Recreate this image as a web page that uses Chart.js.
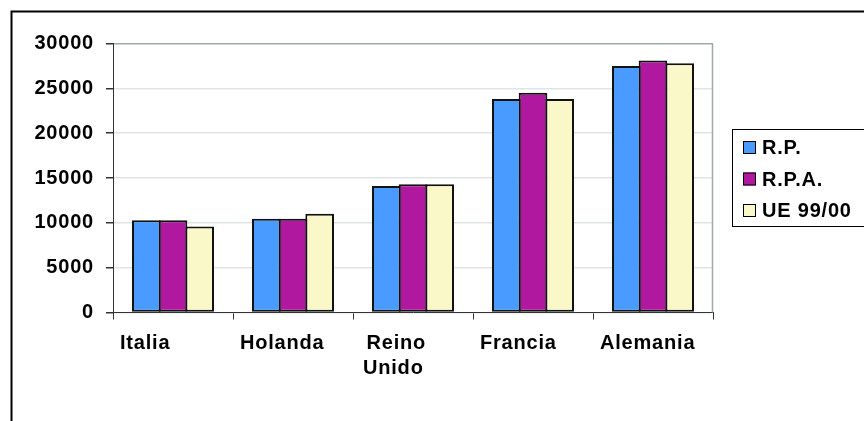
<!DOCTYPE html>
<html>
<head>
<meta charset="utf-8">
<script src="https://cdn.jsdelivr.net/npm/chart.js@4/dist/chart.umd.min.js"></script>
<style>
  html, body { margin: 0; padding: 0; background: #fff; }
  #wrap { width: 864px; height: 421px; position: relative; }
</style>
</head>
<body>
<div id="wrap"><canvas id="c"></canvas></div>
<script>
// Countries (multi-line labels are arrays)
const categories = [['Italia'], ['Holanda'], ['Reino', 'Unido'], ['Francia'], ['Alemania']];
// Series values
const rp   = [10300, 10450, 14100, 23800, 27500];
const rpa  = [10300, 10450, 14300, 24500, 28100];
const ue   = [9600, 11000, 14300, 23800, 27800];
const seriesNames = ['R.P.', 'R.P.A.', 'UE 99/00'];
// Value axis ticks
const yTicks = [0, 5000, 10000, 15000, 20000, 25000, 30000];

const colors = ['#4a9bff', '#b0189f', '#faf8c8'];
const FONT = '"Liberation Sans", Arial, sans-serif';

// Outer frame, plot border, category labels and legend box
const decor = {
  id: 'decor',
  beforeDraw(chart) {
    const ctx = chart.ctx;
    // slightly wider lettering for every text drawn on the canvas
    if ('letterSpacing' in ctx) ctx.letterSpacing = '0.8px';
    ctx.save();
    ctx.fillStyle = '#fff';
    ctx.fillRect(0, 0, chart.width, chart.height);
    ctx.strokeStyle = '#000';
    ctx.lineWidth = 2;
    ctx.beginPath();
    ctx.moveTo(11.5, chart.height + 5);
    ctx.lineTo(11.5, 11.5);
    ctx.lineTo(chart.width + 5, 11.5);
    ctx.stroke();
    ctx.restore();
  },
  beforeDatasetsDraw(chart) {
    const ctx = chart.ctx, a = chart.chartArea;
    ctx.save();
    ctx.strokeStyle = '#9ea9a9';
    ctx.lineWidth = 1.5;
    ctx.beginPath();
    ctx.moveTo(Math.round(a.right) - 0.5, a.top);
    ctx.lineTo(Math.round(a.right) - 0.5, a.bottom);
    ctx.stroke();
    ctx.restore();
  },
  afterDraw(chart) {
    const ctx = chart.ctx;
    const xs = chart.scales.x;
    const n = chart.data.labels.length;
    const cw = xs.width / n;
    ctx.save();
    ctx.font = 'bold 20px ' + FONT;
    ctx.fillStyle = '#000';
    ctx.textBaseline = 'alphabetic';
    ctx.textAlign = 'center';
    chart.data.labels.forEach((lab, i) => {
      const lines = Array.isArray(lab) ? lab : [lab];
      const w = Math.max(...lines.map(l => ctx.measureText(l).width));
      const left = xs.getPixelForValue(i) - cw / 2 + (lines.length > 1 ? 10 : 7);
      lines.forEach((l, k) => ctx.fillText(l, left + w / 2 + (k === 0 && lines.length > 1 ? 3 : 0), 349 + k * 25));
    });

    // legend
    const lx = 732.5, ly = 129.5;
    ctx.strokeStyle = '#000';
    ctx.lineWidth = 1;
    ctx.strokeRect(lx, ly, chart.width, 97);
    ctx.textAlign = 'left';
    ctx.textBaseline = 'alphabetic';
    chart.data.datasets.forEach((ds, i) => {
      const base = 154 + i * 31.5;
      ctx.fillStyle = ds.backgroundColor;
      ctx.fillRect(743, base - 13, 13, 13);
      ctx.strokeStyle = '#000';
      ctx.strokeRect(743.5, base - 12.5, 12, 12);
      ctx.fillStyle = '#000';
      ctx.fillText(ds.label, 762, base);
    });
    ctx.restore();
  }
};

new Chart(document.getElementById('c'), {
  type: 'bar',
  data: {
    labels: categories,
    datasets: [rp, rpa, ue].map((d, i) => ({
      label: seriesNames[i],
      data: d,
      backgroundColor: colors[i],
      borderColor: '#111',
      borderWidth: 2,
      borderSkipped: false,
      categoryPercentage: 80 / 120,
      barPercentage: 1.075
    }))
  },
  options: {
    responsive: true,
    maintainAspectRatio: false,
    animation: false,
    events: [],
    layout: { padding: { left: 13, top: 43.5, right: 151, bottom: 48.5 } },
    plugins: { legend: { display: false }, tooltip: { enabled: false } },
    scales: {
      x: {
        offset: true,
        grid: {
          offset: true,
          drawOnChartArea: false,
          drawTicks: true,
          tickLength: 7,
          tickColor: '#333',
          tickWidth: 1
        },
        border: { color: '#333', width: 1 },
        ticks: { display: false },
        afterFit(s) { s.height = 60; }
      },
      y: {
        min: 0,
        max: 30000,
        afterBuildTicks(s) { s.ticks = yTicks.map(v => ({ value: v })); },
        grid: {
          color: c => (c.tick && c.tick.value === 30000) ? '#9ea9a9' : '#dfe5e5',
          lineWidth: 1.5,
          tickColor: '#333',
          tickLength: 7,
          drawTicks: true
        },
        border: { color: '#333', width: 1 },
        ticks: {
          color: '#000',
          padding: 12,
          font: { family: FONT, size: 20, weight: 'bold' },
          callback: v => String(v)
        },
        afterFit(s) { s.width = 100; }
      }
    }
  },
  plugins: [decor]
});
</script>
</body>
</html>
